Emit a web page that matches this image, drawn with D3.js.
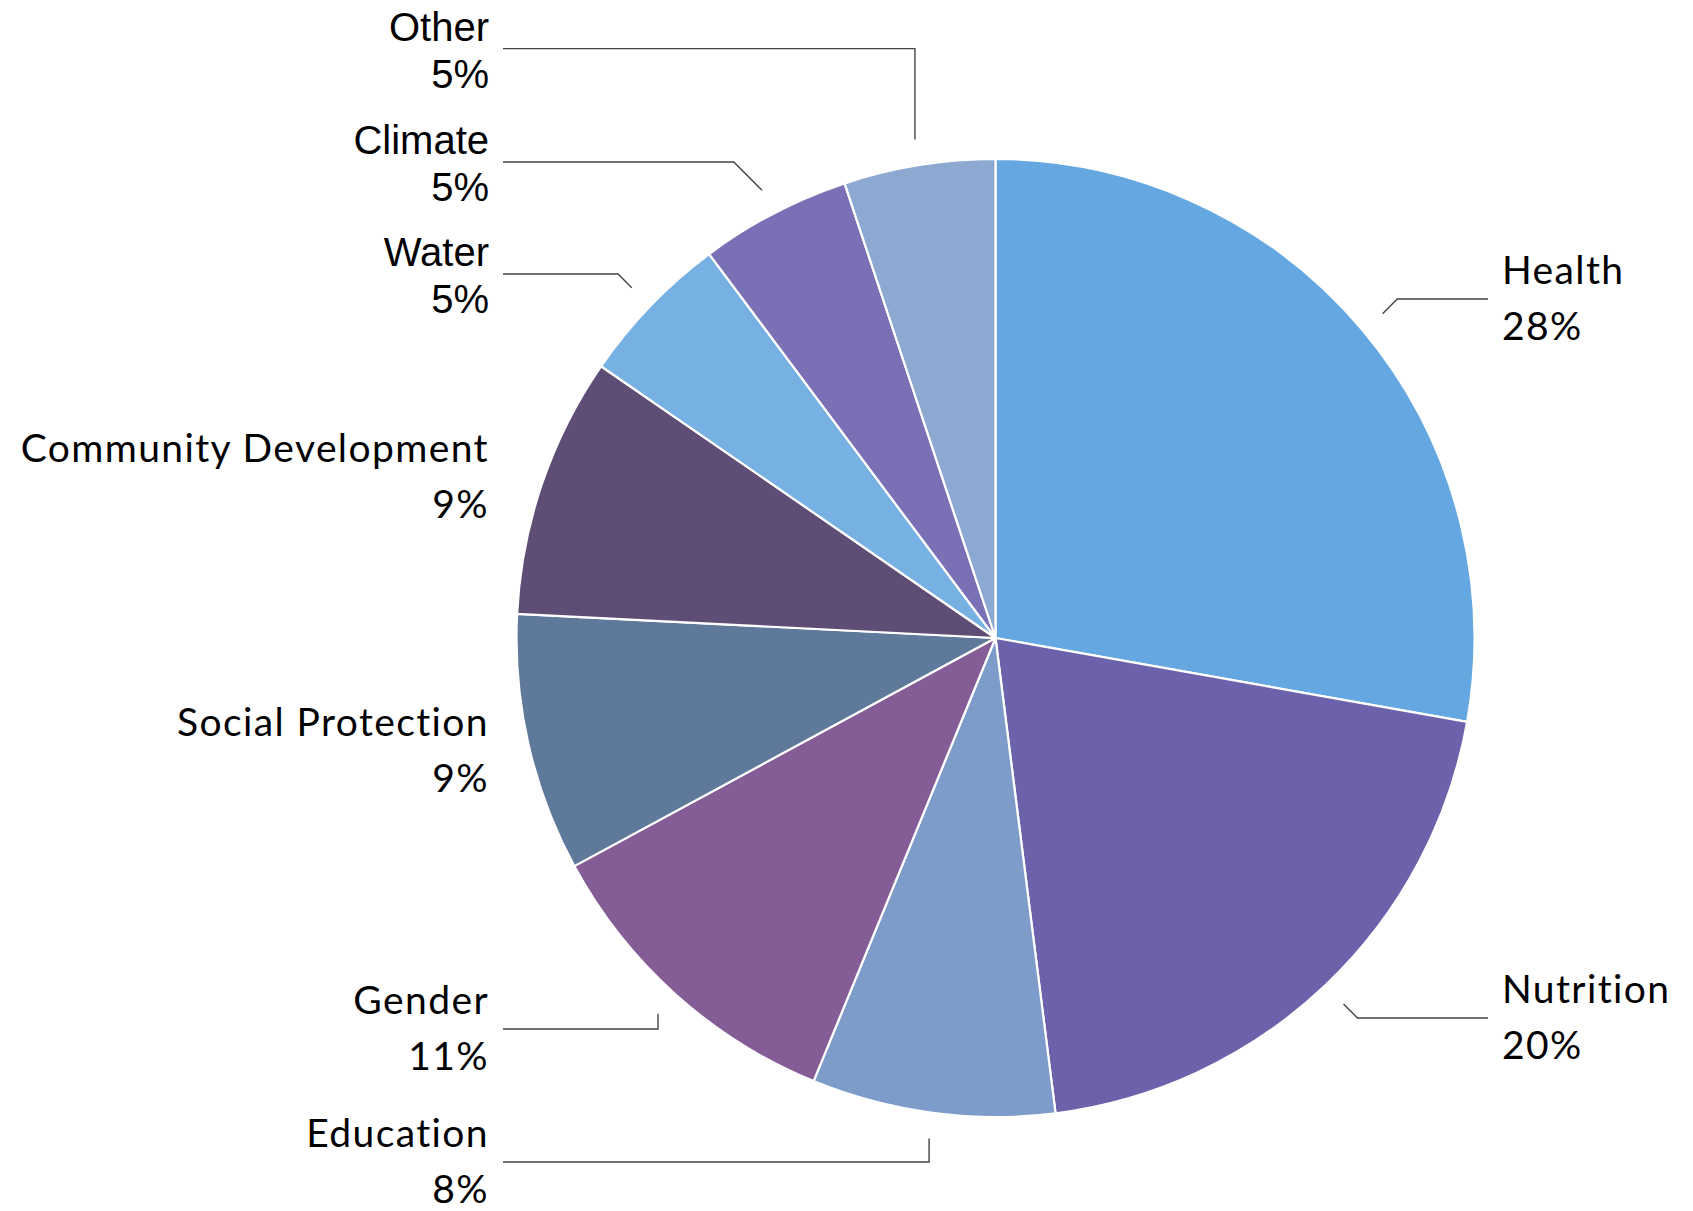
<!DOCTYPE html>
<html>
<head>
<meta charset="utf-8">
<script src="https://cdn.jsdelivr.net/npm/d3@7"></script>
<style>
  html, body { margin: 0; background: #fff; }
  svg { display: block; }
  .lbl { font-family: Lato, "Open Sans", sans-serif; font-size: 39px; letter-spacing: 1.4px; fill: #000; }
  .lbl.arial { font-family: "Liberation Sans", Arial, sans-serif; font-size: 40px; letter-spacing: 0; }
  .leader { fill: none; stroke: #444; stroke-width: 1.4; }
</style>
</head>
<body>
<svg id="chart" width="1693" height="1211"></svg>
<script>
const categories = ['Health', 'Nutrition', 'Education', 'Gender', 'Social Protection',
  'Community Development', 'Water', 'Climate', 'Other'];
const shares = [27.8, 20.2, 8.2, 10.9, 8.7, 8.8, 5.2, 5.1, 5.1];
const colors = ['#64a7e1', '#6b62ab', '#7d9cca', '#845c96', '#5f799b',
  '#5e4d74', '#77b1e4', '#7a70b5', '#8ea9d1'];

// where each label sits (y of its leader line) and how the leader bends
const labelLayout = [
  { side: 'right', y: 299, leader: 'diag' },
  { side: 'right', y: 1018, leader: 'diag' },
  { side: 'left', y: 1162, leader: 'vert' },
  { side: 'left', y: 1029, leader: 'vert' },
  { side: 'left', y: 751, leader: 'none' },
  { side: 'left', y: 477, leader: 'none' },
  { side: 'left', y: 274, leader: 'diag', arial: true },
  { side: 'left', y: 162, leader: 'diag', arial: true },
  { side: 'left', y: 48.6, leader: 'vert', arial: true }
];

const W = 1693, H = 1211;
const cx = 995.5, cy = 638, R = 479;
const leftX = 503, rightX = 1488, gap = 14;

const svg = d3.select('#chart');
const g = svg.append('g').attr('transform', `translate(${cx},${cy})`);

const data = categories.map((name, i) => ({ name, value: shares[i], color: colors[i], lay: labelLayout[i] }));
const pie = d3.pie().value(d => d.value).sort(null);
const arc = d3.arc().innerRadius(0).outerRadius(R);
const outer = d3.arc().innerRadius(R + 26).outerRadius(R + 26);
const arcs = pie(data);

g.selectAll('path.slice').data(arcs).join('path')
  .attr('class', 'slice')
  .attr('d', arc)
  .attr('fill', d => d.data.color)
  .attr('stroke', '#fff')
  .attr('stroke-width', 2.2)
  .attr('stroke-linejoin', 'round');

// leader lines
const leaders = svg.append('g');
arcs.forEach(d => {
  const lay = d.data.lay;
  if (lay.leader === 'none') return;
  const [ex, ey] = outer.centroid(d);
  const px = cx + ex, py = cy + ey;
  const dy = lay.y - py;
  let elbowX = px;
  if (lay.leader === 'diag') elbowX = lay.side === 'right' ? px + Math.abs(dy) : px - Math.abs(dy);
  const endX = lay.side === 'right' ? rightX : leftX;
  leaders.append('path').attr('class', 'leader')
    .attr('d', d3.line()([[px, py], [elbowX, lay.y], [endX, lay.y]]));
});

// labels
const labels = svg.append('g');
arcs.forEach(d => {
  const lay = d.data.lay;
  const x = lay.side === 'right' ? rightX + gap : leftX - 14;
  const anchor = lay.side === 'right' ? 'start' : 'end';
  const up = lay.arial ? 8 : 15;
  const down = lay.arial ? 39 : 41;
  labels.append('text').attr('class', 'lbl' + (lay.arial ? ' arial' : ''))
    .attr('x', x).attr('y', lay.y - up).attr('text-anchor', anchor)
    .text(d.data.name);
  labels.append('text').attr('class', 'lbl' + (lay.arial ? ' arial' : ''))
    .attr('x', x).attr('y', lay.y + down).attr('text-anchor', anchor)
    .text(Math.round(d.data.value) + '%');
});
</script>
</body>
</html>
